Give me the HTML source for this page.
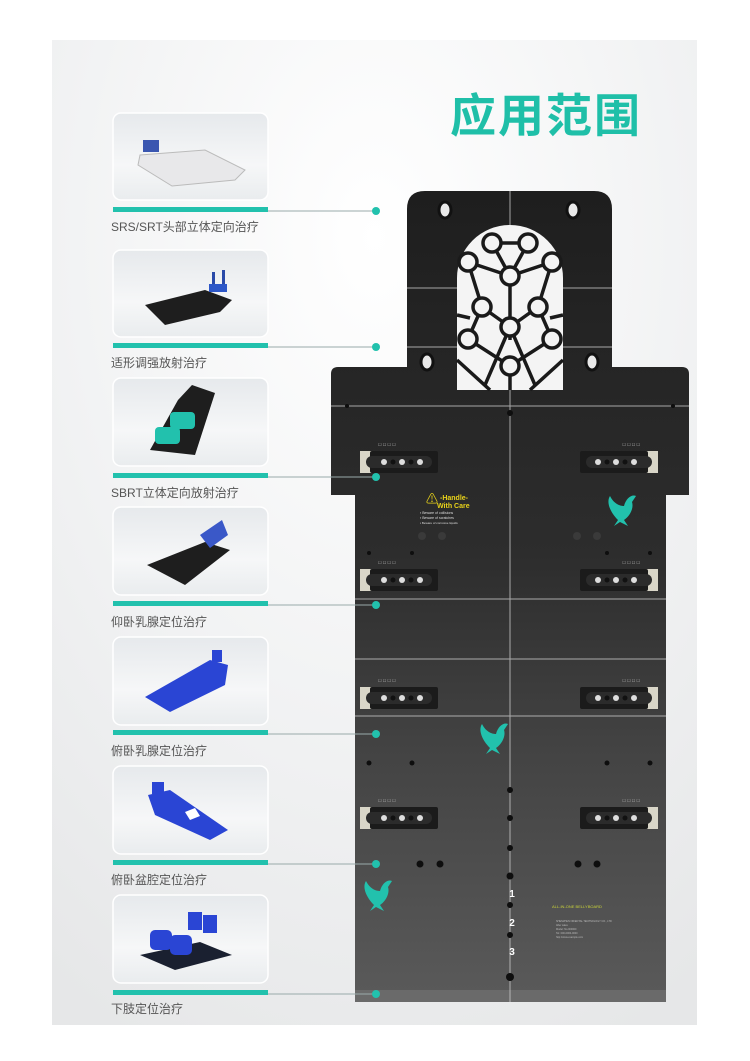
<!DOCTYPE html>
<html><head><meta charset="utf-8"><style>
html,body{margin:0;padding:0;width:750px;height:1061px;overflow:hidden;background:#fff}
</style></head><body>
<svg width="750" height="1061" viewBox="0 0 750 1061" xmlns="http://www.w3.org/2000/svg" font-family="Liberation Sans, Noto Sans CJK SC, sans-serif">
<defs>
<radialGradient id="bg" cx="0.5" cy="0.2" r="0.9">
<stop offset="0" stop-color="#ffffff"/><stop offset="0.6" stop-color="#f0f1f2"/><stop offset="1" stop-color="#e6e7e8"/></radialGradient>
<linearGradient id="card" x1="0" y1="0" x2="0" y2="1"><stop offset="0" stop-color="#e6e9ec"/><stop offset="0.6" stop-color="#f6f7f8"/><stop offset="1" stop-color="#e9ecee"/></linearGradient>
<linearGradient id="board" x1="0" y1="0" x2="0" y2="1"><stop offset="0" stop-color="#1e1e1e"/><stop offset="0.45" stop-color="#2d2d2d"/><stop offset="0.7" stop-color="#444"/><stop offset="1" stop-color="#5a5a5a"/></linearGradient>
<g id="conL"><rect x="0" y="-11" width="17" height="22" fill="#d9d6c8"/><rect x="10" y="-11" width="68" height="22" rx="2" fill="#1b1b1b"/><rect x="6" y="-6" width="66" height="12" rx="6" fill="#2b2b2b"/><circle cx="24" cy="0" r="3" fill="#ddd"/><circle cx="33" cy="0" r="2.5" fill="#111"/><circle cx="42" cy="0" r="3" fill="#ddd"/><circle cx="51" cy="0" r="2.5" fill="#111"/><circle cx="60" cy="0" r="3" fill="#ddd"/>
<text x="18" y="-16" font-size="4" fill="#bbb">☐ ☐ ☐ ☐</text></g>
<g id="dove"><path d="M0,10 C-8,2 -12,-8 -8,-14 C-4,-6 2,-4 6,-4 C8,-12 14,-16 18,-14 L14,-8 C16,-2 12,6 6,10 L10,16 L2,12 L-4,16 Z" fill="#22c1ad"/></g>
</defs>
<rect width="750" height="1061" fill="#fff"/>
<rect x="52" y="40" width="645" height="985" fill="url(#bg)"/>
<text x="546" y="132" font-size="46" font-weight="bold" fill="#1fbfa8" text-anchor="middle" font-family="Noto Sans CJK SC, sans-serif" letter-spacing="2">应用范围</text>

<!-- board -->
<path d="M425,191 L594,191 Q612,191 612,209 L612,367 L682,367 Q689,367 689,374 L689,495 L666,495 L666,990 Q666,1002 654,1002 L366,1002 Q355,1002 355,990 L355,495 L331,495 L331,374 Q331,367 338,367 L407,367 L407,209 Q407,191 425,191 Z" fill="url(#board)"/>
<rect x="355" y="990" width="311" height="12" fill="#6a6a6a"/>
<g stroke="#c8c8c8" stroke-width="1" opacity="0.8">
<line x1="510" y1="191" x2="510" y2="1002"/>
<line x1="407" y1="288" x2="612" y2="288"/><line x1="407" y1="347" x2="612" y2="347"/>
<line x1="331" y1="406" x2="689" y2="406"/>
<line x1="355" y1="599" x2="666" y2="599"/><line x1="355" y1="659" x2="666" y2="659"/><line x1="355" y1="716" x2="666" y2="716"/>
</g>
<!-- window -->
<path d="M457,390 L457,278 A53,53 0 0 1 563,278 L563,390 Z" fill="#f4f4f4"/>
<g stroke="#1a1a1a" stroke-width="3.5" fill="none">
<path d="M492,243 L528,243 M492,243 L510,276 L528,243 M468,262 L510,276 L552,262 M468,262 L482,307 M552,262 L538,307 M510,276 L510,327 M510,285 L510,340 M482,307 L468,339 M538,307 L552,339 M482,307 L510,327 L538,307 M468,339 L510,366 L552,339 M510,327 L485,385 M510,327 L535,385 M457,360 L490,390 M563,360 L530,390 M510,366 L510,390 M457,315 L470,318 M563,315 L550,318"/>
</g>
<g stroke="#1a1a1a" stroke-width="3.5" fill="#f4f4f4">
<circle cx="492" cy="243" r="9"/><circle cx="528" cy="243" r="9"/><circle cx="468" cy="262" r="9"/><circle cx="552" cy="262" r="9"/><circle cx="510" cy="276" r="9"/><circle cx="482" cy="307" r="9"/><circle cx="538" cy="307" r="9"/><circle cx="510" cy="327" r="9"/><circle cx="468" cy="339" r="9"/><circle cx="552" cy="339" r="9"/><circle cx="510" cy="366" r="9"/>
</g>
<g fill="#e8e8e8" stroke="#111" stroke-width="3"><ellipse cx="445" cy="210" rx="6" ry="8"/><ellipse cx="573" cy="210" rx="6" ry="8"/><ellipse cx="427" cy="362" rx="6" ry="8"/><ellipse cx="592" cy="362" rx="6" ry="8"/></g>
<g fill="#0e0e0e"><circle cx="510" cy="413" r="3"/><circle cx="347" cy="406" r="2"/><circle cx="673" cy="406" r="2"/><circle cx="510" cy="790" r="3"/><circle cx="510" cy="818" r="3"/><circle cx="510" cy="848" r="3"/><circle cx="510" cy="876" r="3.5"/><circle cx="510" cy="905" r="3"/><circle cx="510" cy="935" r="3"/><circle cx="510" cy="977" r="4"/>
<circle cx="369" cy="763" r="2.5"/><circle cx="412" cy="763" r="2.5"/><circle cx="607" cy="763" r="2.5"/><circle cx="650" cy="763" r="2.5"/>
<circle cx="420" cy="864" r="3.5"/><circle cx="440" cy="864" r="3.5"/><circle cx="578" cy="864" r="3.5"/><circle cx="597" cy="864" r="3.5"/>
<circle cx="369" cy="553" r="2"/><circle cx="412" cy="553" r="2"/><circle cx="607" cy="553" r="2"/><circle cx="650" cy="553" r="2"/></g>
<g fill="#3a3a3a"><circle cx="422" cy="536" r="4"/><circle cx="442" cy="536" r="4"/><circle cx="577" cy="536" r="4"/><circle cx="597" cy="536" r="4"/></g>
<use href="#conL" x="360" y="462"/><use href="#conL" transform="translate(658,462) scale(-1,1)"/>
<use href="#conL" x="360" y="580"/><use href="#conL" transform="translate(658,580) scale(-1,1)"/>
<use href="#conL" x="360" y="698"/><use href="#conL" transform="translate(658,698) scale(-1,1)"/>
<use href="#conL" x="360" y="818"/><use href="#conL" transform="translate(658,818) scale(-1,1)"/>
<text x="426" y="503" font-size="12" fill="#e8d21a">⚠</text>
<text x="440" y="500" font-size="7" font-weight="bold" fill="#e8d21a">-Handle-</text>
<text x="437" y="508" font-size="7" font-weight="bold" fill="#e8d21a">With Care</text>
<text x="420" y="514" font-size="3.5" fill="#ddd">▪ Beware of collisions</text>
<text x="420" y="519" font-size="3.5" fill="#ddd">▪ Beware of scratches</text>
<text x="420" y="524" font-size="3" fill="#ddd">▪ Beware of corrosive liquids</text>
<use href="#dove" x="618" y="510"/><use href="#dove" x="490" y="738"/><use href="#dove" x="374" y="895"/>
<g font-size="10" font-weight="bold" fill="#fff" text-anchor="middle"><text x="512" y="897">1</text><text x="512" y="926">2</text><text x="512" y="955">3</text></g>
<text x="552" y="908" font-size="4" fill="#c8d23a">ALL-IN-ONE BELLYBOARD</text>
<g font-size="2.5" fill="#bbb"><text x="556" y="922">SHENZHEN ORIENTAL TECHNOLOGY CO., LTD</text><text x="556" y="926">After sales</text><text x="556" y="930">Model: No.000000</text><text x="556" y="934">Tel: 000-0000-0000</text><text x="556" y="938">http://www.example.com</text></g>

<!-- cards -->
<g id="cards">
<g stroke="#fff" stroke-width="1.5" fill="url(#card)">
<rect x="113" y="113" width="155" height="87" rx="8"/>
<rect x="113" y="250" width="155" height="87" rx="8"/>
<rect x="113" y="378" width="155" height="88" rx="8"/>
<rect x="113" y="507" width="155" height="88" rx="8"/>
<rect x="113" y="637" width="155" height="88" rx="8"/>
<rect x="113" y="766" width="155" height="88" rx="8"/>
<rect x="113" y="895" width="155" height="88" rx="8"/>
</g>
<!-- products -->
<path d="M140,155 L205,150 L245,170 L235,180 L172,186 L138,165 Z" fill="#e8e8ea" stroke="#bbb"/><rect x="143" y="140" width="16" height="12" fill="#3a56b0"/>
<path d="M145,305 L205,290 L232,300 L220,312 L165,325 Z" fill="#1e1e1e"/><rect x="212" y="272" width="3" height="18" fill="#2a4aa8"/><rect x="222" y="270" width="3" height="18" fill="#2a4aa8"/><rect x="209" y="284" width="18" height="8" fill="#2d57c8"/>
<path d="M150,450 L178,400 L192,385 L215,393 L195,455 Z" fill="#1e1e1e"/><rect x="155" y="427" width="25" height="17" rx="4" fill="#22c1ad"/><rect x="170" y="412" width="25" height="17" rx="4" fill="#22c1ad"/>
<path d="M147,565 L205,542 L230,550 L185,585 Z" fill="#1e1e1e"/><path d="M200,535 L222,520 L228,535 L210,548 Z" fill="#3a58c8"/>
<path d="M145,697 L210,660 L228,665 L225,685 L170,712 Z" fill="#2a45d4"/><rect x="212" y="650" width="10" height="12" fill="#2a45d4"/>
<path d="M148,795 L170,790 L228,830 L210,840 L155,815 Z" fill="#2a45d4"/><rect x="152" y="782" width="12" height="12" fill="#2a45d4"/><path d="M185,812 L195,808 L200,816 L190,820 Z" fill="#fff"/>
<path d="M140,955 L200,942 L232,955 L175,970 Z" fill="#1a2030"/><rect x="150" y="930" width="22" height="20" rx="5" fill="#2a45d4"/><rect x="170" y="935" width="22" height="20" rx="5" fill="#2a45d4"/><rect x="188" y="912" width="14" height="18" fill="#2a45d4"/><rect x="203" y="915" width="14" height="18" fill="#2a45d4"/>
<!-- bars, lines, dots -->
<g fill="#22c1ad">
<rect x="113" y="207" width="155" height="5"/><rect x="113" y="343" width="155" height="5"/><rect x="113" y="473" width="155" height="5"/><rect x="113" y="601" width="155" height="5"/><rect x="113" y="730" width="155" height="5"/><rect x="113" y="860" width="155" height="5"/><rect x="113" y="990" width="155" height="5"/>
</g>
<g stroke="#9aa" stroke-width="1">
<line x1="268" y1="211" x2="376" y2="211"/><line x1="268" y1="347" x2="376" y2="347"/><line x1="268" y1="477" x2="376" y2="477"/><line x1="268" y1="605" x2="376" y2="605"/><line x1="268" y1="734" x2="376" y2="734"/><line x1="268" y1="864" x2="376" y2="864"/><line x1="268" y1="994" x2="376" y2="994"/>
</g>
<g fill="#22c1ad"><circle cx="376" cy="211" r="4"/><circle cx="376" cy="347" r="4"/><circle cx="376" cy="477" r="4"/><circle cx="376" cy="605" r="4"/><circle cx="376" cy="734" r="4"/><circle cx="376" cy="864" r="4"/><circle cx="376" cy="994" r="4"/></g>
<g font-size="12" fill="#555">
<text x="111" y="231">SRS/SRT头部立体定向治疗</text>
<text x="111" y="367">适形调强放射治疗</text>
<text x="111" y="497">SBRT立体定向放射治疗</text>
<text x="111" y="626">仰卧乳腺定位治疗</text>
<text x="111" y="755">俯卧乳腺定位治疗</text>
<text x="111" y="884">俯卧盆腔定位治疗</text>
<text x="111" y="1013">下肢定位治疗</text>
</g>
</g>
</svg>
</body></html>
